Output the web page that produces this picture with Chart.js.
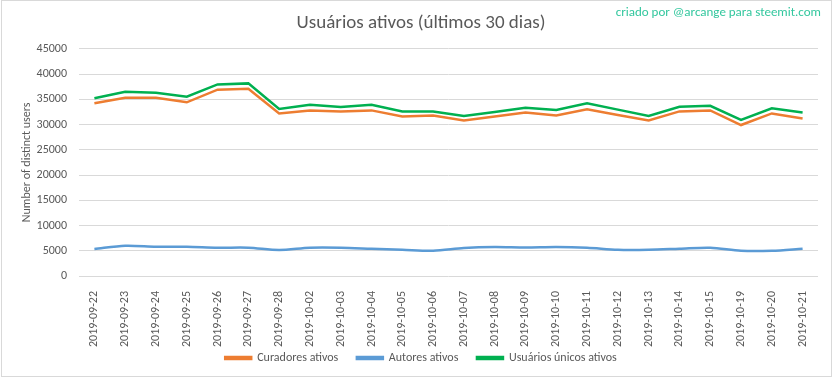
<!DOCTYPE html>
<html>
<head>
<meta charset="utf-8">
<script src="https://cdn.jsdelivr.net/npm/chart.js@4/dist/chart.umd.min.js"></script>
<style>
  html, body { margin: 0; padding: 0; background: #fff; }
  #grafico { display: block; }
</style>
</head>
<body>
<canvas id="grafico" width="833" height="379"></canvas>
<script>
const datas = ['2019-09-22', '2019-09-23', '2019-09-24', '2019-09-25', '2019-09-26', '2019-09-27',
  '2019-09-28', '2019-10-02', '2019-10-03', '2019-10-04', '2019-10-05', '2019-10-06',
  '2019-10-07', '2019-10-08', '2019-10-09', '2019-10-10', '2019-10-11', '2019-10-12',
  '2019-10-13', '2019-10-14', '2019-10-15', '2019-10-19', '2019-10-20', '2019-10-21']

const curadores = [34200, 35300, 35300, 34400, 36900, 37100, 32200, 32800, 32600, 32800, 31600, 31800,
  30800, 31600, 32400, 31800, 33000, 31900, 30800, 32600, 32800, 29900, 32200, 31200]
const autores = [5350, 6000, 5800, 5800, 5600, 5600, 5150, 5600, 5600, 5400, 5200, 5000,
  5550, 5750, 5650, 5750, 5600, 5200, 5200, 5400, 5600, 5000, 5000, 5400]
const unicos = [35200, 36500, 36300, 35500, 37950, 38150, 33100, 33900, 33450, 33900, 32600, 32600,
  31700, 32500, 33300, 32900, 34200, 32950, 31700, 33500, 33700, 30900, 33200, 32400]

const ticksY = [0, 5000, 10000, 15000, 20000, 25000, 30000, 35000, 40000, 45000]

const fonte = "Carlito, 'Open Sans', sans-serif"
const cinza = '#595959'

// moldura e assinatura no canto
const extras = {
  id: 'extras',
  afterDraw(chart) {
    const ctx = chart.ctx
    ctx.save()
    ctx.strokeStyle = '#d9d9d9'
    ctx.lineWidth = 1
    ctx.strokeRect(1.5, 0.5, 830, 376)
    ctx.fillStyle = '#33c79e'
    ctx.font = "13px " + fonte
    ctx.textAlign = 'right'
    ctx.textBaseline = 'middle'
    ctx.fillText('criado por @arcange para steemit.com', 821, 13)
    ctx.restore()
  }
}

function serie(label, dados, cor, tensao) {
  return {
    label: label,
    data: dados,
    borderColor: cor,
    backgroundColor: cor,
    borderWidth: 2.5,
    pointRadius: 0,
    fill: false,
    tension: tensao
  }
}

new Chart(document.getElementById('grafico').getContext('2d'), {
  type: 'line',
  data: {
    labels: datas,
    datasets: [
      serie('Curadores ativos', curadores, '#ED7D31', 0),
      serie('Autores ativos', autores, '#5B9BD5', 0.3),
      serie('Usuários únicos ativos', unicos, '#00B050', 0)
    ]
  },
  options: {
    responsive: false,
    animation: false,
    layout: { padding: { left: 24, right: 15, top: 0, bottom: 5 } },
    plugins: {
      title: {
        display: true,
        text: 'Usuários ativos (últimos 30 dias)',
        color: cinza,
        font: { family: fonte, size: 19, weight: 'normal' },
        padding: { top: 12, bottom: 14 }
      },
      legend: {
        position: 'bottom',
        labels: {
          color: cinza,
          font: { family: fonte, size: 12 },
          boxWidth: 26,
          boxHeight: 2,
          padding: 5,
          // espaço extra entre os itens
          generateLabels(chart) {
            const itens = Chart.defaults.plugins.legend.labels.generateLabels(chart)
            itens.forEach((it, i) => { if (i < itens.length - 1) it.text = it.text + '     ' })
            return itens
          }
        }
      },
      tooltip: { enabled: false }
    },
    scales: {
      x: {
        offset: true,
        grid: { display: false },
        border: { display: false },
        ticks: {
          color: cinza,
          font: { family: fonte, size: 12 },
          maxRotation: 90,
          minRotation: 90,
          padding: 7,
          autoSkip: false
        },
        afterFit(scale) { scale.height = 71 }
      },
      y: {
        min: 0,
        max: 45000,
        afterBuildTicks(scale) { scale.ticks = ticksY.map(v => ({ value: v })) },
        grid: { color: '#d9d9d9', drawTicks: false },
        border: { display: false },
        ticks: {
          color: cinza,
          font: { family: fonte, size: 12 },
          padding: 12,
          callback: v => String(v)
        },
        title: {
          display: true,
          text: 'Number of distinct users',
          color: cinza,
          font: { family: fonte, size: 12 },
          padding: { top: -4, bottom: 0 }
        },
        afterFit(scale) { scale.width = 55 }
      }
    }
  },
  plugins: [extras]
})
</script>
</body>
</html>
